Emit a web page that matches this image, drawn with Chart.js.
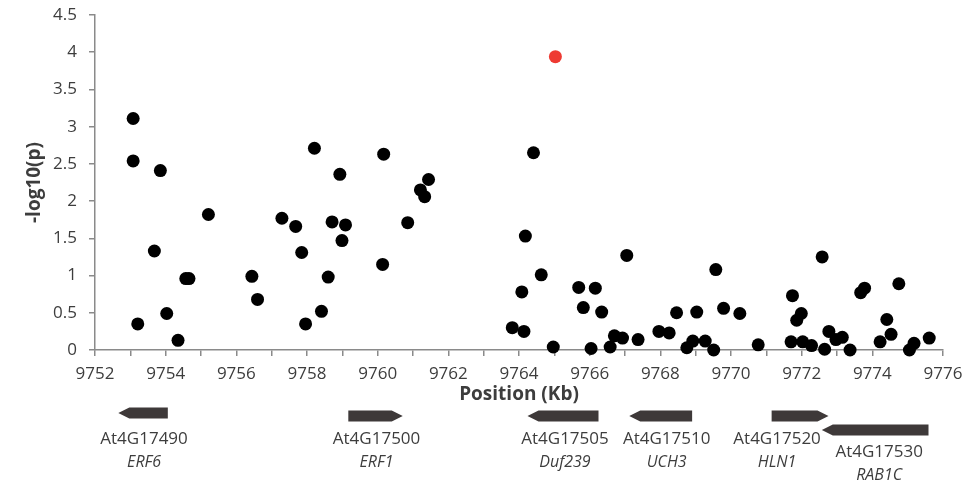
<!DOCTYPE html>
<html>
<head>
<meta charset="utf-8">
<title>-log10(p) by position</title>
<script src="https://cdn.jsdelivr.net/npm/chart.js@4.4.1/dist/chart.umd.min.js"></script>
<style>
  html, body { margin: 0; padding: 0; background: #fff; }
  #chart { display: block; }
</style>
</head>
<body>
<canvas id="chart" width="962" height="483"></canvas>
<script>
'use strict';

// SNP positions (Kb) and -log10(p)
const positionsKb = [
    9753.08, 9753.08, 9753.21, 9753.68, 9753.85, 9754.03, 9754.35, 9754.57, 9754.66, 9755.21,
    9756.44, 9756.60, 9757.29, 9757.68, 9757.85, 9757.96, 9758.21, 9758.41, 9758.60, 9758.71,
    9758.93, 9758.99, 9759.09, 9760.14, 9760.17, 9760.85, 9761.21, 9761.33, 9761.44, 9763.81,
    9764.08, 9764.14, 9764.18, 9764.41, 9764.63, 9764.97, 9765.69, 9765.82, 9766.04, 9766.16,
    9766.34, 9766.58, 9766.70, 9766.93, 9767.05, 9767.37, 9767.96, 9768.25, 9768.46, 9768.75,
    9768.92, 9769.03, 9769.27, 9769.51, 9769.57, 9769.79, 9770.25, 9770.77, 9771.70, 9771.74,
    9771.86, 9771.99, 9772.03, 9772.28, 9772.58, 9772.65, 9772.77, 9772.97, 9773.15, 9773.37,
    9773.67, 9773.78, 9774.22, 9774.41, 9774.53, 9774.75, 9775.05, 9775.18, 9775.61
];
const logP = [
    3.11, 2.54, 0.35, 1.33, 2.41, 0.49, 0.13, 0.96, 0.96, 1.82,
    0.99, 0.68, 1.77, 1.66, 1.31, 0.35, 2.71, 0.52, 0.98, 1.72,
    2.36, 1.47, 1.68, 1.15, 2.63, 1.71, 2.15, 2.06, 2.29, 0.30,
    0.78, 0.25, 1.53, 2.65, 1.01, 0.04, 0.84, 0.57, 0.02, 0.83,
    0.51, 0.04, 0.19, 0.16, 1.27, 0.14, 0.25, 0.23, 0.50, 0.03,
    0.12, 0.51, 0.12, 0.00, 1.08, 0.56, 0.49, 0.07, 0.11, 0.73,
    0.40, 0.49, 0.11, 0.06, 1.25, 0.01, 0.25, 0.14, 0.17, 0.00,
    0.77, 0.83, 0.11, 0.41, 0.21, 0.89, 0.00, 0.09, 0.16
];

// top hit, shown in red
const peakPositionKb = [9765.03];
const peakLogP = [3.94];

// genes in the region
const geneIds = ['At4G17490', 'At4G17500', 'At4G17505', 'At4G17510', 'At4G17520', 'At4G17530'];
const geneSymbols = ['ERF6', 'ERF1', 'Duf239', 'UCH3', 'HLN1', 'RAB1C'];
const geneStartKb = [9752.66, 9759.17, 9764.24, 9767.12, 9771.15, 9772.57];
const geneEndKb = [9754.06, 9760.71, 9766.25, 9768.90, 9772.76, 9775.59];
const geneStrand = ['-', '+', '-', '-', '+', '-'];

const xMin = 9752, xMax = 9776, xStep = 1;
const yMin = 0, yMax = 4.5, yStep = 0.5;

const FONT = '"Open Sans", "DejaVu Sans", sans-serif';
const AXIS_GREY = '#8a8a8a';
const TEXT_GREY = '#3d3d3d';

function toPoints(xs, ys) {
    return xs.map((x, i) => ({ x: x, y: ys[i] }));
}

// draws the gene arrows + names under the x axis, placed with the x scale
const geneTrack = {
    id: 'geneTrack',
    afterDraw(chart) {
        const ctx = chart.ctx;
        const xs = chart.scales.x;
        const rowY = [416, 430];       // arrow centre per row
        const row = [0, 0, 0, 0, 0, 1];
        const labelShift = [1, 1, 2, 6, -23, 4];
        const h = 11, head = 11;

        ctx.save();
        geneIds.forEach((id, i) => {
            const x0 = xs.getPixelForValue(geneStartKb[i]);
            const x1 = xs.getPixelForValue(geneEndKb[i]);
            const cy = rowY[row[i]] - (i === 0 ? 3 : 0);
            const top = cy - h / 2, bot = cy + h / 2;

            ctx.fillStyle = '#3e3939';
            ctx.beginPath();
            if (geneStrand[i] === '+') {
                ctx.moveTo(x0, top);
                ctx.lineTo(x1 - head, top);
                ctx.lineTo(x1, cy);
                ctx.lineTo(x1 - head, bot);
                ctx.lineTo(x0, bot);
            } else {
                ctx.moveTo(x1, top);
                ctx.lineTo(x0 + head, top);
                ctx.lineTo(x0, cy);
                ctx.lineTo(x0 + head, bot);
                ctx.lineTo(x1, bot);
            }
            ctx.closePath();
            ctx.fill();

            const lx = (x0 + x1) / 2 + labelShift[i];
            const ly = row[i] === 1 ? 452 : 439;
            ctx.fillStyle = TEXT_GREY;
            ctx.textAlign = 'center';
            ctx.textBaseline = 'middle';
            ctx.font = '17px ' + FONT;
            ctx.fillText(id, lx, ly);
            ctx.font = 'italic 16px ' + FONT;
            ctx.fillText(geneSymbols[i], lx, ly + 23);
        });
        ctx.restore();
    }
};

new Chart(document.getElementById('chart'), {
    type: 'scatter',
    data: {
        datasets: [
            {
                label: 'peak',
                data: toPoints(peakPositionKb, peakLogP),
                backgroundColor: '#ee3a32',
                borderWidth: 0,
                pointRadius: 6.5,
                clip: false
            },
            {
                label: 'SNPs',
                data: toPoints(positionsKb, logP),
                backgroundColor: '#000',
                borderWidth: 0,
                pointRadius: 6.5,
                clip: false
            }
        ]
    },
    options: {
        responsive: false,
        animation: false,
        events: [],
        layout: { padding: { top: 15, right: 19, left: 0, bottom: 0 } },
        plugins: {
            legend: { display: false },
            tooltip: { enabled: false }
        },
        scales: {
            x: {
                type: 'linear',
                min: xMin,
                max: xMax,
                afterFit: s => { s.height = 133; s.paddingLeft = 0; s.paddingRight = 0; },
                border: { color: AXIS_GREY, width: 1.5 },
                grid: { drawOnChartArea: false, drawTicks: true, tickLength: 6, color: AXIS_GREY, lineWidth: 1.5 },
                ticks: {
                    stepSize: xStep,
                    autoSkip: false,
                    maxRotation: 0,
                    padding: 8,
                    color: TEXT_GREY,
                    font: { family: FONT, size: 17 },
                    callback: v => (v % 2 === 0 ? String(v) : '')
                },
                title: {
                    display: true,
                    text: 'Position (Kb)',
                    color: TEXT_GREY,
                    font: { family: FONT, size: 19, weight: 'bold' },
                    padding: { top: 0, bottom: 77 }
                }
            },
            y: {
                min: yMin,
                max: yMax,
                afterFit: s => { s.width = 95; s.paddingTop = 0; s.paddingBottom = 0; },
                border: { color: AXIS_GREY, width: 1.5 },
                grid: { drawOnChartArea: false, drawTicks: true, tickLength: 6, color: AXIS_GREY, lineWidth: 1.5 },
                ticks: {
                    stepSize: yStep,
                    padding: 12,
                    color: TEXT_GREY,
                    font: { family: FONT, size: 17 },
                    callback: v => String(v)
                },
                title: {
                    display: true,
                    text: '-log10(p)',
                    color: TEXT_GREY,
                    font: { family: FONT, size: 19, weight: 'bold' },
                    padding: { top: 23, bottom: 0 }
                }
            }
        }
    },
    plugins: [geneTrack]
});
</script>
</body>
</html>
